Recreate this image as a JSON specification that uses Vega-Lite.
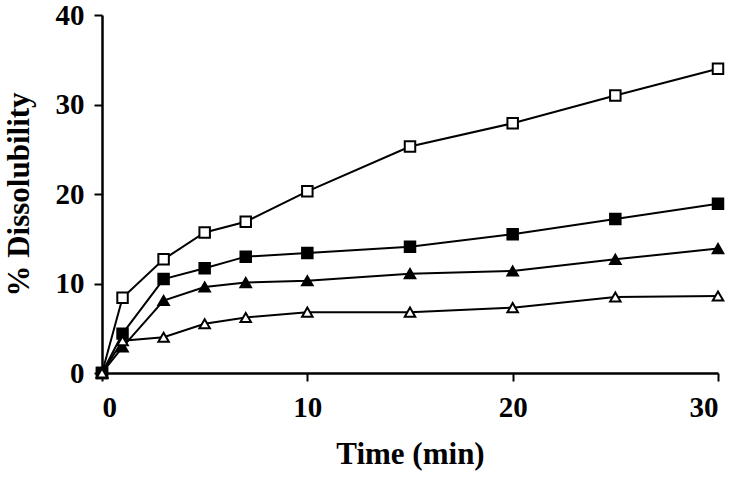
{
  "$schema": "https://vega.github.io/schema/vega-lite/v6.json",
  "autosize": "none",
  "width": 616,
  "height": 358,
  "padding": {"left": 102, "top": 15, "right": 16, "bottom": 104},
  "background": "white",
  "config": {
    "view": {"stroke": null},
    "font": "Liberation Serif",
    "axis": {"grid": false, "domainColor": "black", "domainWidth": 2.5, "tickColor": "black", "tickWidth": 2, "tickSize": 8,
      "labelFont": "Liberation Serif", "labelFontWeight": "bold", "labelFontSize": 29, "labelColor": "black",
      "titleFont": "Liberation Serif", "titleFontWeight": "bold", "titleFontSize": 31, "titleColor": "black"}
  },
  "data": {"values": [
    {"series": "A", "time": 0, "value": 0},
    {"series": "A", "time": 1, "value": 8.4},
    {"series": "A", "time": 3, "value": 12.7},
    {"series": "A", "time": 5, "value": 15.7},
    {"series": "A", "time": 7, "value": 16.9},
    {"series": "A", "time": 10, "value": 20.3},
    {"series": "A", "time": 15, "value": 25.3},
    {"series": "A", "time": 20, "value": 27.9},
    {"series": "A", "time": 25, "value": 31.0},
    {"series": "A", "time": 30, "value": 34.0},
    {"series": "B", "time": 0, "value": 0},
    {"series": "B", "time": 1, "value": 4.4},
    {"series": "B", "time": 3, "value": 10.5},
    {"series": "B", "time": 5, "value": 11.7},
    {"series": "B", "time": 7, "value": 13.0},
    {"series": "B", "time": 10, "value": 13.4},
    {"series": "B", "time": 15, "value": 14.1},
    {"series": "B", "time": 20, "value": 15.5},
    {"series": "B", "time": 25, "value": 17.2},
    {"series": "B", "time": 30, "value": 18.9},
    {"series": "C", "time": 0, "value": 0},
    {"series": "C", "time": 1, "value": 2.9},
    {"series": "C", "time": 3, "value": 8.1},
    {"series": "C", "time": 5, "value": 9.6},
    {"series": "C", "time": 7, "value": 10.1},
    {"series": "C", "time": 10, "value": 10.3},
    {"series": "C", "time": 15, "value": 11.1},
    {"series": "C", "time": 20, "value": 11.4},
    {"series": "C", "time": 25, "value": 12.7},
    {"series": "C", "time": 30, "value": 13.9},
    {"series": "D", "time": 0, "value": 0},
    {"series": "D", "time": 1, "value": 3.6},
    {"series": "D", "time": 3, "value": 4.0},
    {"series": "D", "time": 5, "value": 5.5},
    {"series": "D", "time": 7, "value": 6.2},
    {"series": "D", "time": 10, "value": 6.8},
    {"series": "D", "time": 15, "value": 6.8},
    {"series": "D", "time": 20, "value": 7.3},
    {"series": "D", "time": 25, "value": 8.5},
    {"series": "D", "time": 30, "value": 8.6}
  ]},
  "encoding": {
    "x": {"field": "time", "type": "quantitative", "scale": {"domain": [0, 30], "nice": false},
      "axis": {"values": [0, 10, 20, 30], "title": "Time (min)", "labelPadding": 12, "titlePadding": 17}},
    "y": {"field": "value", "type": "quantitative", "scale": {"domain": [0, 40], "nice": false},
      "axis": {"values": [0, 10, 20, 30, 40], "title": "% Dissolubility", "labelPadding": 10, "titlePadding": 20}}
  },
  "layer": [
    {"mark": {"type": "line", "interpolate": "linear", "color": "black", "strokeWidth": 2},
     "encoding": {"detail": {"field": "series"}}},
    {"mark": {"type": "point", "filled": false, "stroke": "black", "strokeWidth": 2, "opacity": 1},
     "encoding": {
       "shape": {"field": "series", "scale": {"domain": ["A", "B", "C", "D"], "range": ["square", "square", "triangle-up", "triangle-up"]}, "legend": null},
       "fill": {"field": "series", "scale": {"domain": ["A", "B", "C", "D"], "range": ["white", "black", "black", "white"]}, "legend": null},
       "size": {"value": 110}
     }}
  ]
}
